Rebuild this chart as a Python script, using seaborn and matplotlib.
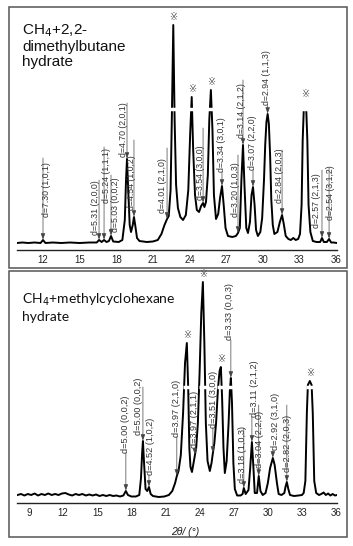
import numpy as np
import matplotlib
import matplotlib.pyplot as plt
import seaborn as sns
from matplotlib.patches import Rectangle

sns.set_style("white")
plt.rcParams['font.family'] = ['Liberation Sans', 'DejaVu Sans', 'Noto Sans CJK SC']

# ---- data: top panel (CH4 + 2,2-dimethylbutane), 2theta / intensity (a.u.)
top_2theta = [9.87, 10.3, 10.8, 11.3, 11.8, 12.0, 12.2, 12.8, 13.5, 14.2, 15.0, 15.8, 16.4, 16.59, 16.8,
              17.0, 17.2, 17.4, 17.57, 17.75, 18.2, 18.5, 18.7, 18.8, 18.88, 18.98, 19.1, 19.21, 19.35,
              19.45, 19.55, 19.7, 19.9, 20.5, 21.0, 21.4, 21.7, 21.95, 22.16, 22.3, 22.45, 22.55, 22.67,
              22.78, 22.9, 23.05, 23.25, 23.47, 23.7, 23.9, 24.05, 24.18, 24.3, 24.45, 24.6, 24.78, 24.95,
              25.11, 25.22, 25.35, 25.5, 25.62, 25.75, 25.88, 26.0, 26.17, 26.35, 26.5, 26.66, 26.8, 26.95,
              27.15, 27.5, 27.8, 27.97, 28.12, 28.25, 28.38, 28.5, 28.65, 28.79, 28.95, 29.08, 29.2, 29.33,
              29.45, 29.6, 29.8, 29.95, 30.1, 30.2, 30.3, 30.4, 30.5, 30.6, 30.7, 30.82, 30.95, 31.2, 31.4,
              31.58, 31.72, 31.88, 32.1, 32.3, 32.5, 32.7, 32.9, 33.05, 33.18, 33.27, 33.36, 33.46, 33.56,
              33.65, 33.75, 33.9, 34.1, 34.4, 34.7, 34.85, 35.0, 35.25, 35.43, 35.6, 35.8, 36.08]
top_int = [7, 7.5, 7, 7.5, 7, 10, 7, 7.5, 7, 7.5, 7, 7.5, 7.5, 10, 8,
           10, 8, 9, 14, 8.5, 8, 10, 30, 70, 91, 60, 25, 18, 25,
           33, 25, 12, 9, 8, 8.5, 10, 16, 25, 31, 34, 60, 130, 225,
           130, 65, 42, 33, 30, 35, 60, 115, 153, 100, 55, 40, 38, 44,
           47, 43, 48, 75, 130, 160, 120, 55, 31, 36, 52, 64, 45, 22,
           14, 13, 14, 17, 22, 70, 105, 65, 22, 17, 28, 55, 63, 45,
           20, 14, 18, 32, 70, 105, 128, 136, 126, 95, 50, 25, 16, 18, 28,
           35, 26, 14, 11, 10, 12, 10, 11, 16, 45, 110, 141, 141, 141,
           110, 45, 18, 9, 8, 8, 12, 8, 8, 11, 7.5, 7.5, 7]

# ---- data: bottom panel (CH4 + methylcyclohexane)
bot_2theta = [8.0, 8.3, 8.6, 8.9, 9.2, 9.5, 9.8, 10.1, 10.4, 10.7, 11.0, 11.3, 11.6, 11.9, 12.2, 12.5,
              12.8, 13.1, 13.4, 13.7, 14.0, 14.3, 14.6, 14.9, 15.2, 15.5, 15.8, 16.1, 16.4, 16.7, 17.0,
              17.3, 17.52, 17.7, 18.0, 18.4, 18.7, 18.85, 18.95, 19.02, 19.12, 19.25, 19.4, 19.55, 19.7,
              19.9, 20.4, 20.9, 21.3, 21.6, 21.85, 22.0, 22.15, 22.35, 22.55, 22.72, 22.88, 23.0, 23.1,
              23.2, 23.33, 23.47, 23.59, 23.7, 23.85, 24.0, 24.15, 24.29, 24.42, 24.55, 24.7, 24.9, 25.05,
              25.17, 25.3, 25.45, 25.62, 25.76, 25.87, 25.98, 26.1, 26.22, 26.38, 26.55, 26.66, 26.75,
              26.85, 26.97, 27.1, 27.3, 27.6, 27.78, 27.89, 28.05, 28.3, 28.45, 28.6, 28.72, 28.85, 29.05,
              29.2, 29.35, 29.55, 29.8, 30.0, 30.2, 30.44, 30.6, 30.8, 30.95, 31.2, 31.45, 31.55, 31.67,
              31.8, 31.95, 32.3, 32.7, 33.0, 33.15, 33.3, 33.43, 33.52, 33.69, 33.85, 33.95, 34.08, 34.25,
              34.5, 34.7, 34.9, 35.1, 35.3, 35.5, 35.7, 35.9, 36.08]
bot_int = [8, 9, 7.5, 9, 8, 9.5, 7.5, 9, 8, 9.5, 8, 9, 8, 9.5, 10, 8.5,
           7.5, 9, 8, 9, 7.5, 8.5, 7.5, 8.5, 7, 8, 7, 8, 7, 7.5, 6.5,
           7.5, 12, 8, 6.5, 6.5, 8, 25, 50, 62, 40, 14, 12, 16, 9,
           7, 6, 6.5, 8, 12, 20, 27, 32, 48, 90, 140, 160, 115, 55,
           36, 31, 40, 48, 55, 80, 130, 190, 221, 160, 80, 42, 32, 40,
           50, 60, 80, 115, 132, 136, 105, 55, 30, 42, 80, 112, 125,
           100, 40, 14, 7.5, 7.5, 9, 15, 9, 13, 35, 61, 38, 10, 10,
           27, 12, 8, 10, 20, 35, 45, 38, 20, 9, 8, 10, 16, 21,
           14, 8, 7, 7.5, 8, 10, 22, 90, 118, 122, 118, 90, 22, 10,
           8, 9, 10.5, 8, 9.5, 7.5, 9, 7.5, 8]

# peak labels: text, peak 2theta, peak intensity
top_labels = ["d=7.30 (1,0,1)", "d=5.31 (2,0,0)", "d=5.24 (1,1,1)", "d=5.03 (0,0,2)", "d=4.70 (2,0,1)",
              "d=4.54 (1,0,2)", "d=4.01 (2,1,0)", "d=3.54 (3,0,0)", "d=3.34 (3,0,1)", "d=3.20 (1,0,3)",
              "d=3.14 (2,1,2)", "d=3.07 (2,2,0)", "d=2.94 (1,1,3)", "d=2.84 (2,0,3)", "d=2.57 (2,1,3)",
              "d=2.54 (3,1,2)"]
top_peak_2theta = [12.0, 16.59, 17.0, 17.57, 18.88, 19.45, 22.16, 25.11, 26.66, 27.97, 28.38, 29.2, 30.4,
                   31.58, 34.85, 35.43]
top_peak_int = [10, 10, 10, 14, 91, 33, 31, 47, 64, 17, 105, 63, 136, 35, 12, 11]

bot_labels = ["d=5.00 (0,0,2)", "d=5.00 (0,0,2)", "d=4.52 (1,0,2)", "d=3.97 (2,1,0)", "d=3.97 (2,1,1)",
              "d=3.51 (3,0,0)", "d=3.33 (0,0,3)", "d=3.18 (1,0,3)", "d=3.11 (2,1,2)", "d=3.04 (2,2,0)",
              "d=2.92 (3,1,0)", "d=2.82 (2,0,3)"]
bot_peak_2theta = [17.52, 19.02, 19.55, 22.0, 23.59, 25.17, 26.75, 27.89, 28.6, 29.2, 30.44, 31.67]
bot_peak_int = [12, 62, 16, 27, 48, 50, 125, 15, 61, 27, 45, 21]

# reference marks (※) on the strong peaks, and their heights
top_ref_2theta = [22.67, 24.18, 25.75, 33.46]
top_ref_int = [225, 153, 160, 148]
bot_ref_2theta = [22.88, 24.29, 25.87, 33.69]
bot_ref_int = [160, 221, 136, 122]

# ---- layout (text x, text bottom, arrow start) per label
top_lab_pos = [(12.25, 33, 92), (16.26, 15, 70), (17.24, 47, 103), (17.9, 18, 75), (18.63, 93, 147),
               (19.21, 40, 110), (21.75, 37, 102), (24.86, 50, 122), (26.66, 78, 78), (27.73, 33, 95),
               (28.22, 112, 170), (29.12, 80, 80), (30.33, 145, 145), (31.41, 47, 100), (34.44, 22, 80),
               (35.51, 30, 82)]
bot_lab_pos = [(17.52, 50, 50), (18.67, 68, 116), (19.72, 28, 28), (22.0, 66, 66), (23.59, 55, 55),
               (25.26, 75, 75), (26.66, 163, 163), (27.8, 20, 75), (28.86, 86, 86), (29.3, 35, 98),
               (30.7, 53, 53), (31.76, 31, 98)]

W, H = 353, 546
fig = plt.figure(figsize=(W / 100, H / 100), dpi=100)

# outer frames
for y0, y1 in [(7, 268), (271, 537)]:
    fig.add_artist(Rectangle((9 / W, 1 - y1 / H), 338 / W, (y1 - y0) / H, transform=fig.transFigure,
                             fill=False, ec='#555555', lw=1.1))

ax1 = fig.add_axes([17 / W, 1 - 250 / H, 320 / W, 240 / H])
ax2 = fig.add_axes([17 / W, 1 - 503 / H, 320 / W, 228 / H])

panels = [
    (ax1, top_2theta, top_int, (9.87, 36.08), (0, 240), 141, top_ref_2theta, top_ref_int,
     top_labels, top_peak_2theta, top_peak_int, top_lab_pos, 6.3),
    (ax2, bot_2theta, bot_int, (7.95, 36.08), (0, 228), 116, bot_ref_2theta, bot_ref_int,
     bot_labels, bot_peak_2theta, bot_peak_int, bot_lab_pos, 6.6),
]

for (ax, xs, ys, xlim, ylim, brk, refs, ref_h, labs, px, py, pos, fs) in panels:
    sns.lineplot(x=xs, y=ys, ax=ax, color='black', lw=1.4, sort=False, zorder=2)
    ax.set_xlim(*xlim)
    ax.set_ylim(*ylim)
    for s in ['top', 'left', 'right']:
        ax.spines[s].set_visible(False)
    ax.spines['bottom'].set_color('#222222')
    ax.spines['bottom'].set_linewidth(1.0)
    ax.set_yticks([])
    ax.set_xticks(np.arange(9 if xlim[0] < 9 else 12, 37, 3))
    ax.set_xticks(np.arange(10.5, 36, 1.5), minor=True)
    ax.tick_params(axis='x', which='major', direction='inout', length=4, width=0.8, labelsize=7,
                   pad=1.5, colors='#222222')
    ax.tick_params(axis='x', which='minor', direction='out', length=2, width=0.8, colors='#222222')
    ax.patch.set_alpha(0)

    # break marks on the cut peaks
    for r in refs + ([26.75] if ax is ax2 else []):
        ax.hlines(brk, r - 0.35, r + 0.35, color='white', lw=2.5, zorder=3)

    # reference marks
    for r, h in zip(refs, ref_h):
        ax.text(r, h + 3, "※", ha='center', va='bottom', fontsize=7, color='#555555',
                family=['DejaVu Sans', 'Noto Sans CJK SC'])

    for lab, x, y, (tx, tb, ls) in zip(labs, px, py, pos):
        ax.text(tx, tb, lab, rotation=90, ha='center', va='bottom', fontsize=fs, color='#333333')
        ax.annotate('', xy=(x, y + 0.5), xytext=(x, ls),
                    arrowprops=dict(arrowstyle='-|>,head_length=0.35,head_width=0.13', color='#444444',
                                    lw=0.5, shrinkA=0, shrinkB=0))
    ax.set_xlabel('')

fig.text(22 / W, 1 - 22 / H, "CH$_4$+2,2-\ndimethylbutane\nhydrate", ha='left', va='top',
         fontsize=11, linespacing=1.1, color='#111111')
fig.text(22 / W, 1 - 292 / H, "CH$_4$+methylcyclohexane\nhydrate", ha='left', va='top',
         fontsize=10, linespacing=1.25, color='#111111', family=['Lato', 'DejaVu Sans'])
fig.text(185 / W, 1 - 532 / H, "2θ/ (°)", ha='center', va='center', fontsize=7.5, style='italic',
         color='#222222')

fig.savefig('out.png', dpi=100)
